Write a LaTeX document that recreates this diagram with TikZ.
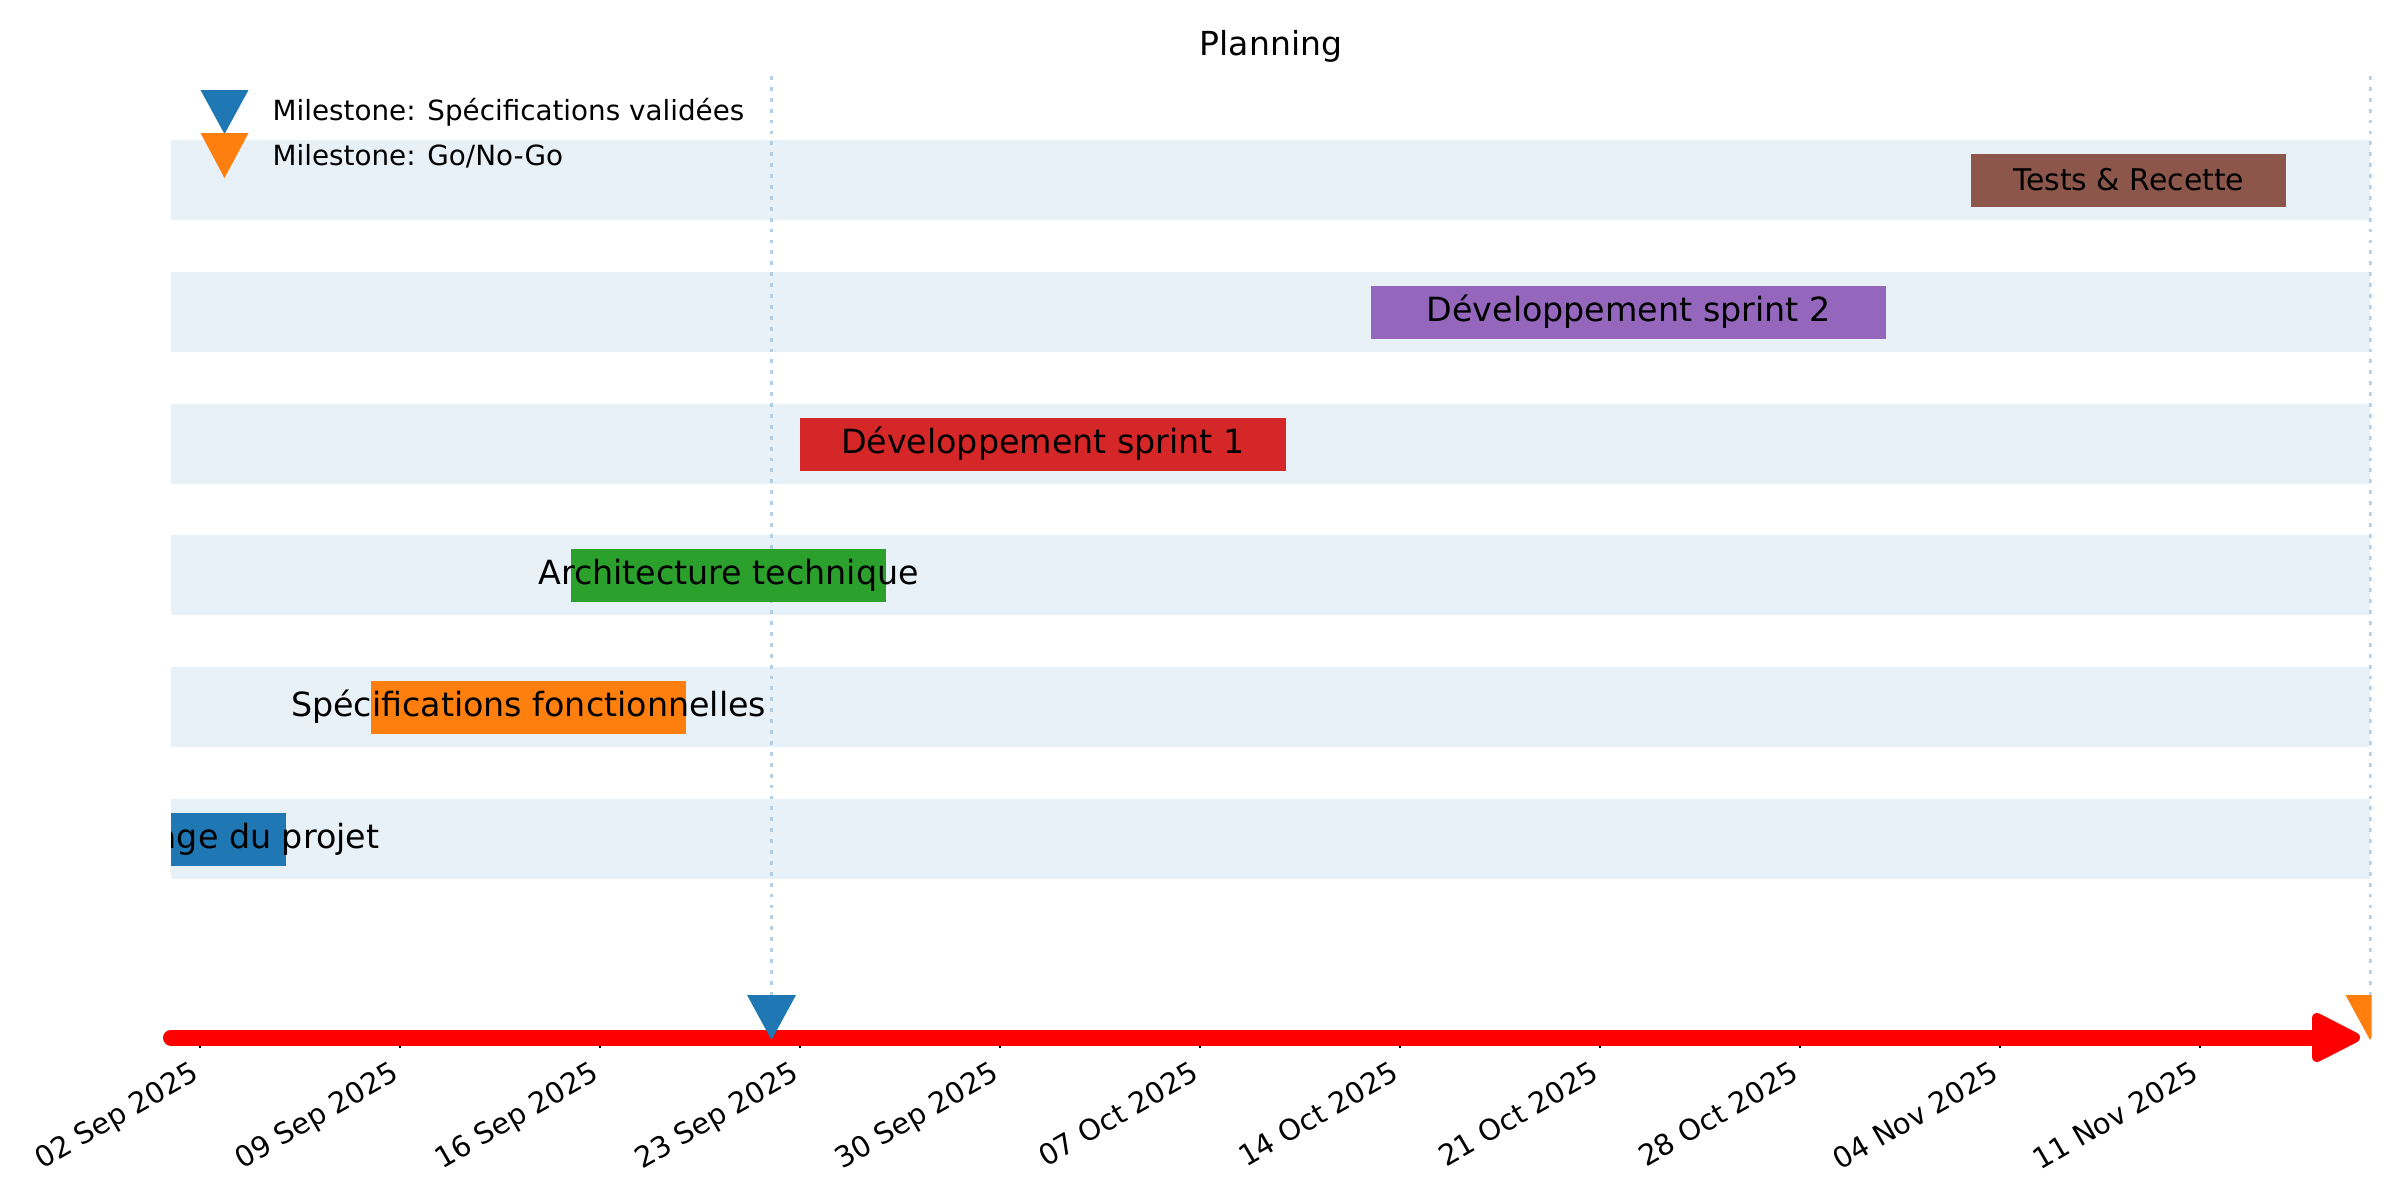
\documentclass[tikz,border=0pt]{standalone}
\usepackage{fontspec}
\setmainfont{DejaVu Sans}
\usepackage{tikz}
\definecolor{tabblue}{RGB}{31,119,180}
\definecolor{taborange}{RGB}{255,127,14}
\definecolor{tabgreen}{RGB}{44,160,44}
\definecolor{tabred}{RGB}{214,39,40}
\definecolor{tabpurple}{RGB}{148,103,189}
\definecolor{tabbrown}{RGB}{140,86,75}
\definecolor{rowblue}{RGB}{232,240,248}
\definecolor{dotblue}{RGB}{177,207,230}
\tikzset{
  rowband/.style={fill=rowblue},
  tasklabel/.style={inner sep=0pt, font=\fontsize{9.47}{11}\selectfont},
  datelabel/.style={inner sep=0pt, rotate=30, anchor=north east, font=\fontsize{8.2}{9}\selectfont},
  legendlabel/.style={inner sep=0pt, anchor=west, font=\fontsize{7.9}{9}\selectfont},
  msline/.style={dotblue, line width=0.85pt, dash pattern=on 1.1pt off 2pt},
  axistick/.style={black, line width=0.63pt}
}

\begin{document}
\begin{tikzpicture}[x=0.01cm, y=-0.01cm]
    \useasboundingbox (0,0) rectangle (2400,1200);

    % Title
    \node[font=\fontsize{9.4}{11}\selectfont] (title) at (1271,46) {Planning};

    \begin{scope}
        \clip (171,60) rectangle (2371.5,1042);
        % Row bands
        \fill[rowband] (171,799) rectangle (2370,879);
        \fill[rowband] (171,667) rectangle (2370,747);
        \fill[rowband] (171,535) rectangle (2370,615);
        \fill[rowband] (171,404) rectangle (2370,484);
        \fill[rowband] (171,272) rectangle (2370,352);
        \fill[rowband] (171,140) rectangle (2370,220);

        % Milestone lines
        \draw[msline] (771.4,76) -- (771.4,1038);
        \draw[msline] (2370,76) -- (2370,1038);

        % Tasks
        \fill[tabblue] (171,812.5) rectangle (285.7,865.5);
        \node[tasklabel] (cadrage) at (228.6,839) {Cadrage du projet};

        \fill[taborange] (371.4,680.5) rectangle (685.7,733.5);
        \node[tasklabel] (specs) at (528.6,707) {Spécifications fonctionnelles};

        \fill[tabgreen] (571.4,548.5) rectangle (885.7,601.5);
        \node[tasklabel] (archi) at (728.6,575) {Architecture technique};

        \fill[tabred] (800,417.5) rectangle (1285.7,470.5);
        \node[tasklabel] (sprint1) at (1042.9,444) {Développement sprint 1};

        \fill[tabpurple] (1371.4,285.5) rectangle (1885.7,338.5);
        \node[tasklabel] (sprint2) at (1628.6,312) {Développement sprint 2};

        \fill[tabbrown] (1971.4,153.5) rectangle (2285.7,206.5);
        \node[tasklabel, font=\fontsize{8.5}{10}\selectfont] (recette) at (2128.6,180) {Tests \& Recette};
    \end{scope}

    % Date ticks
    \draw[axistick] (200,1038) -- (200,1048);
    \draw[axistick] (400,1038) -- (400,1048);
    \draw[axistick] (600,1038) -- (600,1048);
    \draw[axistick] (800,1038) -- (800,1048);
    \draw[axistick] (1000,1038) -- (1000,1048);
    \draw[axistick] (1200,1038) -- (1200,1048);
    \draw[axistick] (1400,1038) -- (1400,1048);
    \draw[axistick] (1600,1038) -- (1600,1048);
    \draw[axistick] (1800,1038) -- (1800,1048);
    \draw[axistick] (2000,1038) -- (2000,1048);
    \draw[axistick] (2200,1038) -- (2200,1048);

    \node[datelabel] (d02sep) at (190,1059) {02 Sep 2025};
    \node[datelabel] (d09sep) at (390,1059) {09 Sep 2025};
    \node[datelabel] (d16sep) at (590,1059) {16 Sep 2025};
    \node[datelabel] (d23sep) at (790,1059) {23 Sep 2025};
    \node[datelabel] (d30sep) at (990,1059) {30 Sep 2025};
    \node[datelabel] (d07oct) at (1190,1059) {07 Oct 2025};
    \node[datelabel] (d14oct) at (1390,1059) {14 Oct 2025};
    \node[datelabel] (d21oct) at (1590,1059) {21 Oct 2025};
    \node[datelabel] (d28oct) at (1790,1059) {28 Oct 2025};
    \node[datelabel] (d04nov) at (1990,1059) {04 Nov 2025};
    \node[datelabel] (d11nov) at (2190,1059) {11 Nov 2025};

    % Time arrow
    \coordinate (tlstart) at (171,1037.5);
    \coordinate (tlend) at (2317,1037.5);
    \draw[red, line width=0.16cm, line cap=round] (tlstart) -- (tlend);
    \filldraw[red, line width=0.1cm, line join=round] (2317,1018) -- (2355,1037.5) -- (2317,1057) -- cycle;

    % Milestones
    \begin{scope}
        \clip (171,60) rectangle (2371.5,1042);
        \fill[tabblue] (747,995) -- (796,995) -- (771.5,1040) -- cycle;
        \fill[taborange] (2345.5,995) -- (2394.5,995) -- (2370,1040) -- cycle;
    \end{scope}

    % Legend
    \fill[tabblue] (200.5,90) -- (248.5,90) -- (224.5,134) -- cycle;
    \fill[taborange] (200.5,133) -- (248.5,133) -- (224.5,178) -- cycle;
    \node[legendlabel] (ms1) at (272,112) {Milestone: Spécifications validées};
    \node[legendlabel] (ms2) at (272,156) {Milestone: Go/No-Go};
\end{tikzpicture}
\end{document}
